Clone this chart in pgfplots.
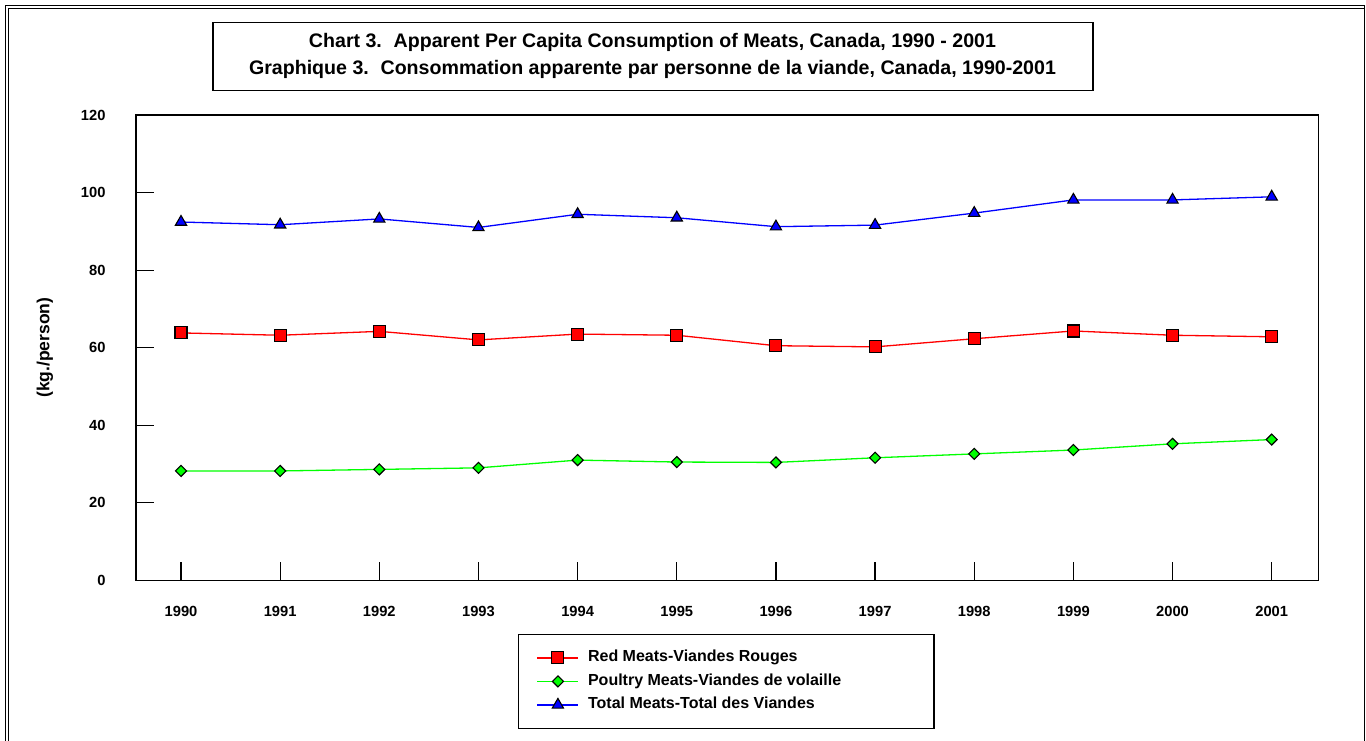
\documentclass[border=0pt]{standalone}
\usepackage{fontspec}
\setmainfont{Liberation Sans}
\usepackage{pgfplots}
\usepackage{pgfplotstable}
\pgfplotsset{compat=1.18}

\pgfplotstableread{
year red poultry total
1990 63.8 28.2 92.4
1991 63.2 28.2 91.7
1992 64.2 28.6 93.2
1993 62.0 29.0 91.0
1994 63.5 31.0 94.4
1995 63.2 30.5 93.5
1996 60.5 30.4 91.2
1997 60.2 31.6 91.6
1998 62.3 32.6 94.7
1999 64.3 33.6 98.1
2000 63.2 35.2 98.1
2001 62.8 36.3 98.9
}\meattable

\begin{document}
\begin{tikzpicture}
\useasboundingbox (0pt,0pt) rectangle (1366pt,740pt);
\begin{scope}
\clip (0pt,0pt) rectangle (1366pt,740pt);
\draw[line width=1pt] (5.5pt,-10pt) -- (5.5pt,734.5pt) -- (1364pt,734.5pt) -- (1364pt,-10pt);
\draw[line width=1pt] (8.5pt,-10pt) -- (8.5pt,731.5pt) -- (1364pt,731.5pt);
\end{scope}
\draw[line width=1.3pt] (213pt,649.3pt) rectangle (1093pt,717.3pt);
\node[align=center, font=\fontsize{19.6}{27}\selectfont\bfseries] at (652.5pt,684pt)
  {Chart 3.\hspace{0.6em}Apparent Per Capita Consumption of Meats, Canada, 1990 - 2001\\
   Graphique 3.\hspace{0.6em}Consommation apparente par personne de la viande, Canada, 1990-2001};

\begin{axis}[
  at={(136pt,159.7pt)}, anchor=south west,
  scale only axis, width=1182.3pt, height=465.3pt,
  xmin=1989.546, xmax=2001.470,
  ymin=0, ymax=120,
  xtick={1990,1991,...,2001},
  xticklabels={1990,1991,1992,1993,1994,1995,1996,1997,1998,1999,2000,2001},
  ytick={0,20,...,120},
  tick pos=left, tick align=inside,
  major tick length=18pt,
  every tick/.style={black, line width=1.2pt},
  axis line style={line width=1.2pt},
  /pgf/number format/assume math mode=true,
  ticklabel style={font=\fontsize{14.7}{16}\selectfont\bfseries},
  yticklabel style={xshift=-27pt},
  xticklabel style={yshift=-22pt},
  ylabel={(kg./person)},
  ylabel style={font=\fontsize{17.5}{19}\selectfont\bfseries, at={(axis description cs:-0.077,0.5)}, anchor=center},
  legend style={at={(0.3232,-0.1154)}, anchor=north west, draw=black, line width=1.3pt,
    inner xsep=18pt, inner ysep=11.5pt, column sep=9pt, row sep=0pt,
    font=\fontsize{16}{18}\selectfont\bfseries,
    nodes={inner sep=0pt, text height=15.75pt, text depth=7.75pt}},
  legend cell align=left,
  legend image code/.code={\draw[mark repeat=2,mark phase=2] plot coordinates {(0pt,0pt) (20.5pt,0pt) (41pt,0pt)};},
]
\addplot[color=red, line width=1.3pt, mark=square*, mark size=6pt,
  mark options={fill=red, draw=black, line width=1.1pt}] table[x=year, y=red] {\meattable};
\addlegendentry{\makebox[328pt][l]{Red Meats-Viandes Rouges}}
\addplot[color=green, line width=1.3pt, mark=square*, mark size=3.9pt,
  mark options={fill=green, draw=black, line width=1.1pt, rotate=45}] table[x=year, y=poultry] {\meattable};
\addlegendentry{\makebox[328pt][l]{Poultry Meats-Viandes de volaille}}
\addplot[color=blue, line width=1.3pt, mark=triangle*, mark size=6.5pt,
  mark options={fill=blue, draw=black, line width=1.1pt}] table[x=year, y=total] {\meattable};
\addlegendentry{\makebox[328pt][l]{Total Meats-Total des Viandes}}
\end{axis}
\end{tikzpicture}
\end{document}
